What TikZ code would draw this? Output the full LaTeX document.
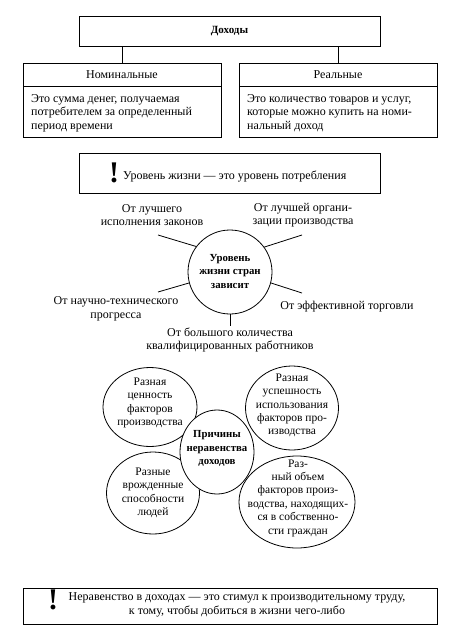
\documentclass[tikz,border=0pt]{standalone}
\usepackage{fontspec}
\setmainfont{Liberation Serif}
\usetikzlibrary{shapes.geometric}
\tikzset{
  box/.style={draw, line width=0.8pt, inner sep=0pt},
  txt/.style={inner sep=0pt, align=center, font=\fontsize{12}{13.5}\selectfont},
  otxt/.style={inner sep=0pt, align=center, font=\fontsize{11.5}{13.4}\selectfont},
  btxt/.style={inner sep=0pt, align=center, font=\fontsize{10.8}{13.5}\selectfont\bfseries},
  ltxt/.style={inner sep=0pt, align=left, font=\fontsize{12}{13.5}\selectfont},
  oval/.style={draw, ellipse, line width=0.8pt, fill=white, inner sep=0pt},
  spoke/.style={line width=0.8pt},
  link/.style={line width=0.8pt},
  bang/.style={inner sep=0pt, font=\fontsize{30}{30}\selectfont\bfseries}
}
\begin{document}
\begin{tikzpicture}[x=1pt,y=-1pt]
\useasboundingbox (0,0) rectangle (456,634);
% top tree
\node[box, minimum width=301pt, minimum height=30pt, font=\fontsize{11}{13.5}\selectfont\bfseries] (doh) at (229.5,31) {Доходы};
\node[box, minimum width=198pt, minimum height=23pt, font=\fontsize{12}{13.5}\selectfont] (nom) at (122,74.5) {Номинальные};
\node[box, minimum width=198pt, minimum height=51pt] (nomb) at (122,111.5) {};
\node[ltxt, anchor=west] (nomt) at (31,113) {Это сумма денег, получаемая\\потребителем за определенный\\период времени};
\node[box, minimum width=198pt, minimum height=23pt, font=\fontsize{12}{13.5}\selectfont] (real) at (338,74.5) {Реальные};
\node[box, minimum width=198pt, minimum height=51pt] (realb) at (338,111.5) {};
\node[ltxt, anchor=west] (realt) at (247,113) {Это количество товаров и услуг,\\которые можно купить на номи-\\нальный доход};
\draw[link] (doh.south -| nom.north) -- (nom.north);
\draw[link] (doh.south -| real.north) -- (real.north);
% first note
\node[box, minimum width=301pt, minimum height=40pt] (note1) at (229.5,173) {};
\node[bang] (bang1) at (114,173) {!};
\node[txt, anchor=west] (note1t) at (123,176.5) {Уровень жизни — это уровень потребления};
% level of life
\node[draw, circle, line width=0.8pt, minimum size=84pt, inner sep=0pt] (lvl) at (230,272) {};
\node[btxt] (lvlt) at (230,271.5) {Уровень\\жизни стран\\зависит};
\coordinate (s1) at (158,235);
\coordinate (s2) at (302,235);
\coordinate (s3) at (158,292);
\coordinate (s4) at (302,293);
\coordinate (s5) at (230,326);
\draw[spoke] (lvl.143) -- (s1);
\draw[spoke] (lvl.36) -- (s2);
\draw[spoke] (lvl.195) -- (s3);
\draw[spoke] (lvl.-15) -- (s4);
\draw[spoke] (lvl.south) -- (s5);
\node[txt] (l1) at (152,215) {От лучшего\\исполнения законов};
\node[txt] (l2) at (303,215) {От лучшей органи-\\зации производства};
\node[txt] (l3) at (116,309) {От научно-технического\\прогресса};
\node[txt] (l4) at (347,307) {От эффективной торговли};
\node[txt] (l5) at (230,340) {От большого количества\\квалифицированных работников};
% causes
\node[oval, minimum width=94pt, minimum height=79pt] (e1) at (150,407) {};
\node[oval, minimum width=93pt, minimum height=84pt] (e2) at (292,408) {};
\node[oval, minimum width=93pt, minimum height=82pt] (e3) at (153,493) {};
\node[oval, minimum width=116pt, minimum height=92pt] (e4) at (297,502) {};
\node[oval, minimum width=74pt, minimum height=84pt] (e0) at (217,452) {};
\node[otxt] (e1t) at (150,403) {Разная\\ценность\\факторов\\производства};
\node[otxt] (e2t) at (292,405.5) {Разная\\успешность\\использования\\факторов про-\\изводства};
\node[otxt] (e3t) at (153,493) {Разные\\врожденные\\способности\\людей};
\node[otxt] (e4t) at (298,498) {Раз-\\ный объем\\факторов произ-\\водства, находящих-\\ся в собственно-\\сти граждан};
\node[btxt] (e0t) at (217,448.5) {Причины\\неравенства\\доходов};
% bottom note
\node[box, minimum width=414pt, minimum height=36pt] (note2) at (230,606) {};
\node[bang] (bang2) at (53,600) {!};
\node[txt] (note2t) at (237,605) {Неравенство в доходах — это стимул к производительному труду,\\к тому, чтобы добиться в жизни чего-либо};
\end{tikzpicture}
\end{document}
